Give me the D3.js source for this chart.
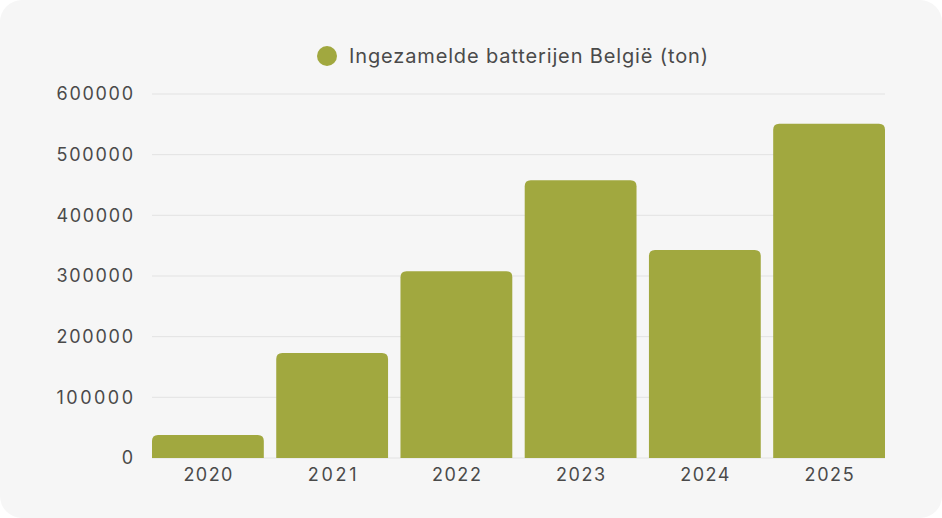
<!DOCTYPE html>
<html>
<head>
<meta charset="utf-8">
<script src="https://cdn.jsdelivr.net/npm/d3@7"></script>
<style>
  html, body { margin: 0; padding: 0; background: #ffffff; }
  text { font-family: Inter, "Open Sans", sans-serif; fill: #4a4a4a; }
</style>
</head>
<body>
<div id="chart"></div>
<script>
// data
const years = ['2020', '2021', '2022', '2023', '2024', '2025'];
const tonnes = [38000, 173000, 308000, 458000, 343000, 551000];
const yTicks = [0, 100000, 200000, 300000, 400000, 500000, 600000];
const seriesName = 'Ingezamelde batterijen België (ton)';

const W = 942, H = 518;
const margin = { top: 94, right: 57, bottom: 60, left: 152 };
const barColor = '#a1a83f';

const svg = d3.select('#chart').append('svg')
  .attr('width', W)
  .attr('height', H);

// card background
svg.append('rect')
  .attr('x', 0).attr('y', 0)
  .attr('width', W).attr('height', H)
  .attr('rx', 22)
  .attr('fill', '#f6f6f6');

const width = W - margin.left - margin.right;
const height = H - margin.top - margin.bottom;

const g = svg.append('g')
  .attr('transform', `translate(${margin.left},${margin.top})`);

const x = d3.scaleBand()
  .domain(years)
  .range([0, width])
  .paddingInner(0.1)
  .paddingOuter(0);

const y = d3.scaleLinear()
  .domain([0, 600000])
  .range([height, 0]);

// grid lines
g.append('g')
  .selectAll('line')
  .data(yTicks)
  .enter().append('line')
  .attr('x1', 0).attr('x2', width)
  .attr('y1', (d) => y(d)).attr('y2', (d) => y(d))
  .attr('stroke', '#e2e2e2')
  .attr('stroke-width', 1);

// y axis labels (wide digits like the original font)
const yAxis = g.append('g')
  .call(d3.axisLeft(y).tickValues(yTicks).tickSize(0).tickPadding(19).tickFormat(d3.format('d')));
yAxis.select('.domain').remove();
yAxis.selectAll('text')
  .style('font-size', '18px')
  .attr('fill', '#4a4a4a')
  .attr('textLength', (d) => String(d).length * 12.75)
  .attr('lengthAdjust', 'spacing');

// x axis labels
const xAxis = g.append('g')
  .attr('transform', `translate(0,${height})`)
  .call(d3.axisBottom(x).tickSize(0).tickPadding(10));
xAxis.select('.domain').remove();
xAxis.selectAll('text')
  .style('font-size', '18px')
  .attr('fill', '#4a4a4a')
  .attr('textLength', (d) => d.length * 12.25)
  .attr('lengthAdjust', 'spacing');

// bars with rounded top corners
const r = 6;
function barPath(d, i) {
  const x0 = x(years[i]);
  const x1 = x0 + x.bandwidth();
  const y0 = y(d);
  const yb = y(0);
  return `M${x0},${yb}V${y0 + r}Q${x0},${y0} ${x0 + r},${y0}H${x1 - r}Q${x1},${y0} ${x1},${y0 + r}V${yb}Z`;
}

g.selectAll('.bar')
  .data(tonnes)
  .enter().append('path')
  .attr('class', 'bar')
  .attr('d', barPath)
  .attr('fill', barColor);

// legend
const legend = svg.append('g').attr('transform', 'translate(327,56)');
legend.append('circle').attr('r', 10).attr('fill', barColor);
legend.append('text')
  .attr('x', 22).attr('y', 0)
  .attr('dy', '0.35em')
  .style('font-size', '20px')
  .attr('textLength', 359)
  .attr('lengthAdjust', 'spacing')
  .text(seriesName);
</script>
</body>
</html>
